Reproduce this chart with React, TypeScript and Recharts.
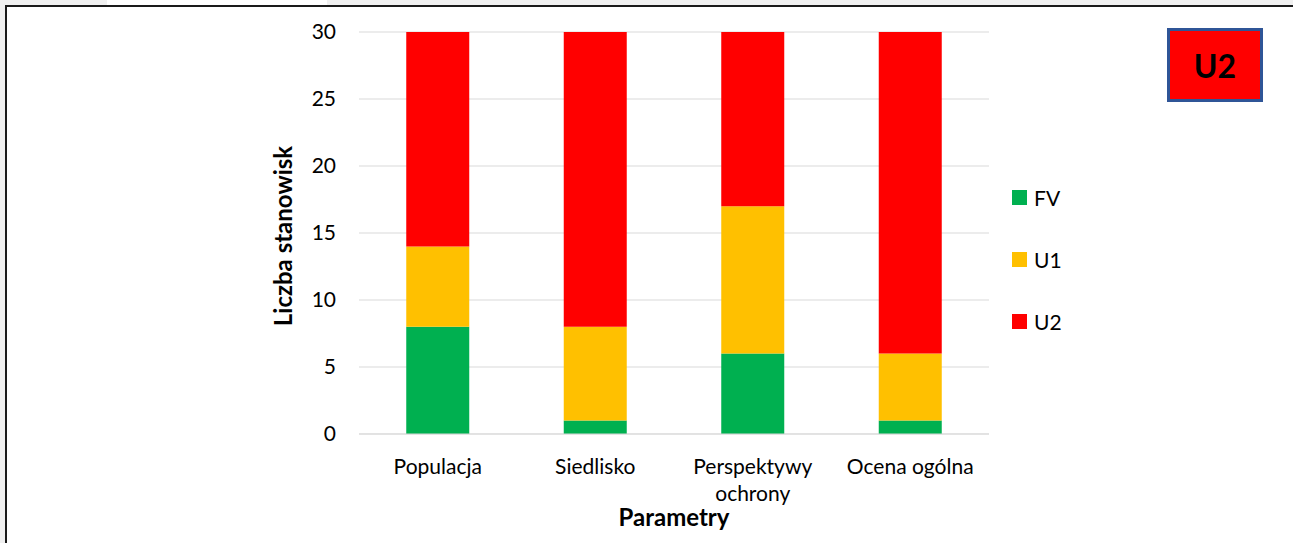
import { BarChart, Bar, XAxis, YAxis, CartesianGrid, Legend } from "recharts";

const categories = ["Populacja", "Siedlisko", "Perspektywy ochrony", "Ocena ogólna"];
const fvValues = [8, 1, 6, 1];
const u1Values = [6, 7, 11, 5];
const u2Values = [16, 22, 13, 24];
const yTicks = [0, 5, 10, 15, 20, 25, 30];

const seriesNames = ["FV", "U1", "U2"];
const seriesColors = ["#00B050", "#FFC000", "#FF0000"];

const data = categories.map((name, i) => ({
  name,
  FV: fvValues[i],
  U1: u1Values[i],
  U2: u2Values[i],
}));

const FONT = "Lato, 'Noto Sans', sans-serif";

function CategoryTick(props: any) {
  const { x, y, payload } = props;
  const text: string = payload.value;
  const lines = text.length > 14 ? text.split(" ") : [text];
  return (
    <text x={x} y={y} textAnchor="middle" fill="#000" fontFamily={FONT} fontSize={21}>
      {lines.map((l, i) => (
        <tspan key={i} x={x} dy={i === 0 ? 32 : 27}>
          {l}
        </tspan>
      ))}
    </text>
  );
}

function LegendBox() {
  return (
    <div style={{ fontFamily: FONT, fontSize: 21, color: "#000" }}>
      {seriesNames.map((s, i) => (
        <div key={s} style={{ height: 62, display: "flex", alignItems: "center" }}>
          <span
            style={{
              display: "inline-block",
              width: 15,
              height: 15,
              background: seriesColors[i],
              marginRight: 7,
            }}
          />
          <span>{s}</span>
        </div>
      ))}
    </div>
  );
}

export default function App() {
  return (
    <div
      style={{
        position: "absolute",
        left: 0,
        top: 0,
        width: 1293,
        height: 543,
        background: "#f0f0f0",
        overflow: "hidden",
      }}
    >
      <div style={{ position: "absolute", left: 107, top: 0, width: 220, height: 5, background: "#fff" }} />
      <div
        style={{
          position: "absolute",
          left: 5,
          top: 5,
          width: 1400,
          height: 600,
          background: "#fff",
          borderLeft: "2px solid #1a1a1a",
          borderTop: "2px solid #1a1a1a",
        }}
      />
      <div style={{ position: "absolute", left: 0, top: 0 }}>
        <BarChart
          width={1293}
          height={543}
          data={data}
          margin={{ top: 32, right: 304, bottom: 0, left: 319 }}
          barCategoryGap="30%"
        >
          <CartesianGrid vertical={false} stroke="#d9d9d9" />
          <XAxis
            dataKey="name"
            height={109}
            axisLine={{ stroke: "#d9d9d9" }}
            tickLine={false}
            tick={<CategoryTick />}
            interval={0}
            label={{
              value: "Parametry",
              position: "insideBottom",
              offset: 17,
              style: { fontFamily: FONT, fontSize: 24, fontWeight: 700, fill: "#000" },
            }}
          />
          <YAxis
            width={40}
            domain={[0, 30]}
            ticks={yTicks}
            axisLine={false}
            tickLine={false}
            tickMargin={17}
            tick={{ fontFamily: FONT, fontSize: 21, fill: "#000" }}
            label={{
              value: "Liczba stanowisk",
              angle: -90,
              position: "left",
              offset: 36,
              dy: 3,
              style: { textAnchor: "middle", fontFamily: FONT, fontSize: 24, fontWeight: 700, fill: "#000" },
            }}
          />
          <Legend
            layout="horizontal"
            verticalAlign="middle"
            content={<LegendBox />}
            wrapperStyle={{ left: 1012, top: 166, width: 120 }}
          />
          {seriesNames.map((s, i) => (
            <Bar key={s} dataKey={s} stackId="a" fill={seriesColors[i]} isAnimationActive={false} />
          ))}
        </BarChart>
      </div>
      <div
        style={{
          position: "absolute",
          left: 1167,
          top: 28,
          width: 96,
          height: 74,
          boxSizing: "border-box",
          background: "#FF0000",
          border: "3px solid #2F5597",
          display: "flex",
          alignItems: "center",
          justifyContent: "center",
          fontFamily: FONT,
          fontWeight: 700,
          fontSize: 32,
          color: "#000",
        }}
      >
        U2
      </div>
    </div>
  );
}
